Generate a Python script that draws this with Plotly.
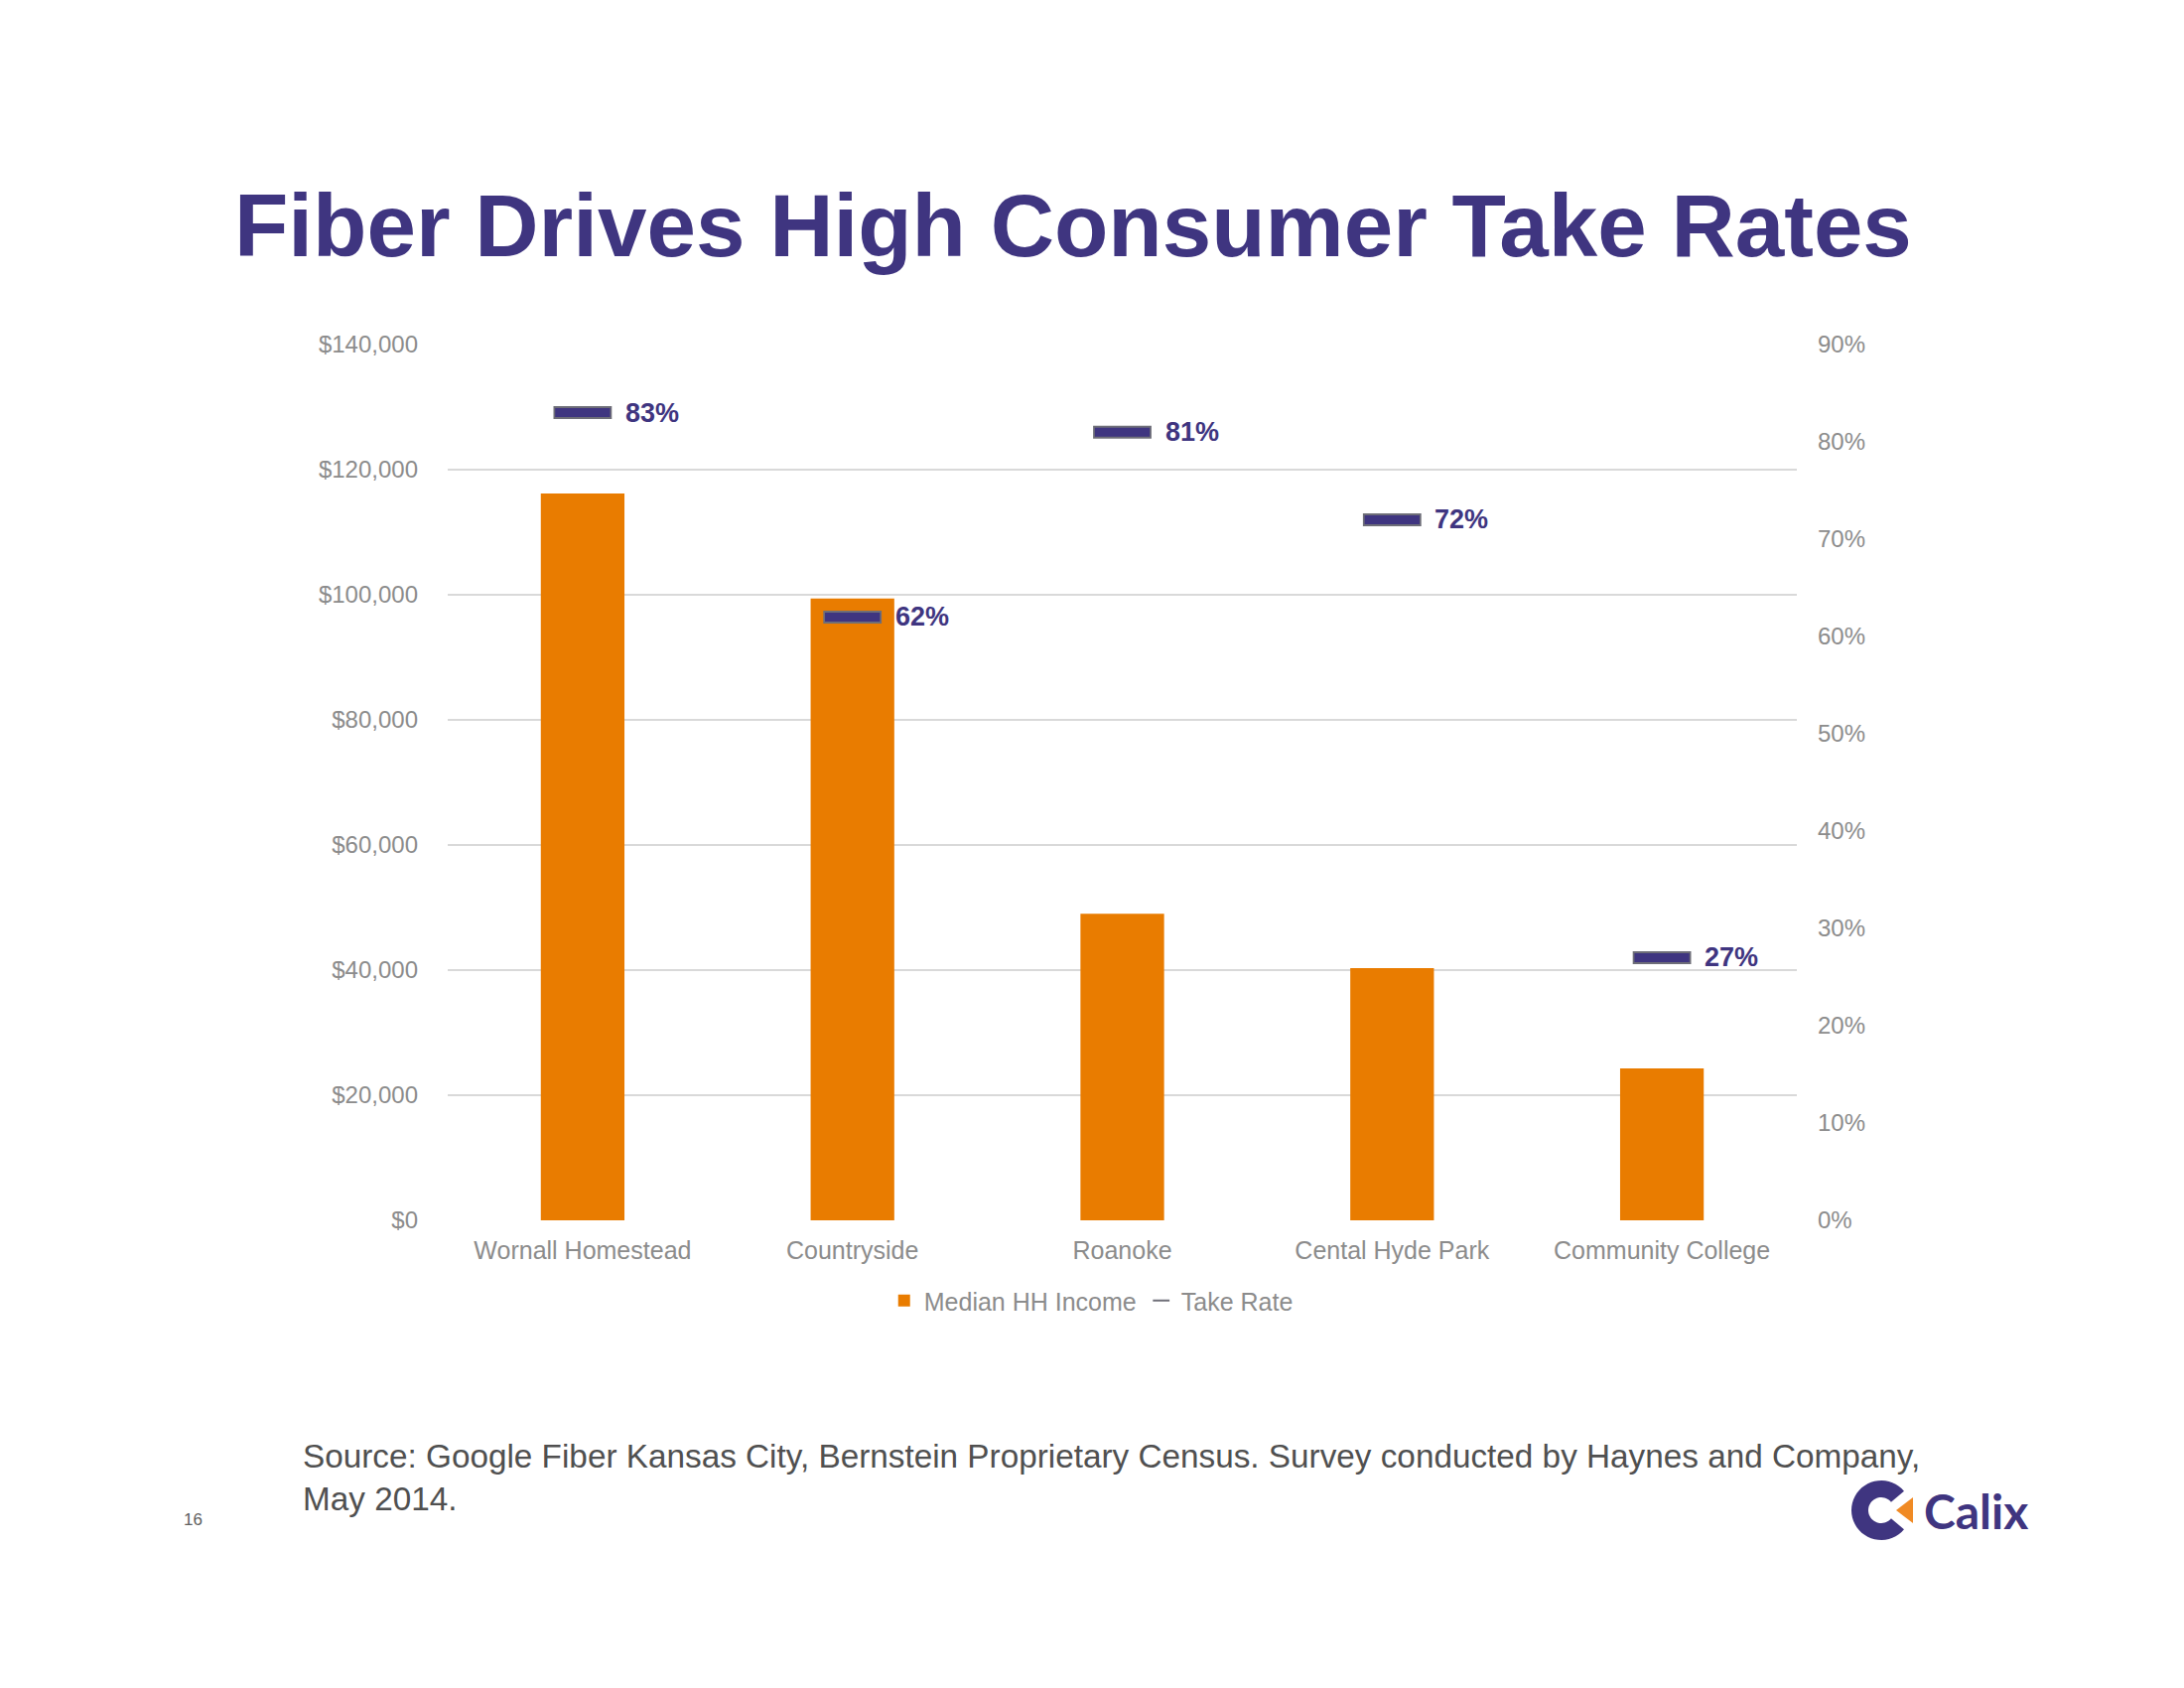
import plotly.graph_objects as go
import math

categories = ["Wornall Homestead", "Countryside", "Roanoke", "Cental Hyde Park", "Community College"]
median_income = [116200, 99400, 49000, 40300, 24300]
take_rate = [0.83, 0.62, 0.81, 0.72, 0.27]

W, H = 2200, 1700
L, R, T, B = 451, 1810, 347, 1229

PURPLE = "#3F3580"
ORANGE = "#E97C00"
GRAY_TXT = "#8C8C8C"
FONT = "Liberation Sans, Arial, sans-serif"

def px(x):
    return (x - L) / (R - L)

def py(y):
    return (B - y) / (B - T)

fig = go.Figure()
fig.add_trace(go.Bar(
    x=categories, y=median_income, name="Median HH Income",
    marker=dict(color=ORANGE, line=dict(width=0)), yaxis="y",
))
# Take rate dash: grey outline + purple fill
fig.add_trace(go.Scatter(
    x=categories, y=take_rate, name="Take Rate", mode="markers", yaxis="y2",
    marker=dict(symbol="line-ew", size=42, color="#6E6E78",
                line=dict(width=13, color="#6E6E78")),
    showlegend=True,
))
fig.add_trace(go.Scatter(
    x=categories, y=take_rate, name="Take Rate", mode="markers", yaxis="y2",
    marker=dict(symbol="line-ew", size=39.5, color=PURPLE,
                line=dict(width=9, color=PURPLE)),
    showlegend=False,
))

fig.update_layout(
    width=W, height=H,
    margin=dict(l=L, r=W - R, t=T, b=H - B),
    paper_bgcolor="white", plot_bgcolor="white",
    font=dict(family=FONT, color=GRAY_TXT, size=24),
    bargap=0.69,
    xaxis=dict(showline=False, showgrid=False, zeroline=False, ticks="",
               tickfont=dict(size=25, color=GRAY_TXT), ticklabelstandoff=13),
    yaxis=dict(range=[0, 140000], dtick=20000, tickprefix="$", tickformat=",",
               showgrid=True, gridcolor="#D9D9D9", gridwidth=2, zeroline=False,
               showline=False, ticks="", ticklabelstandoff=29,
               tickfont=dict(size=24, color=GRAY_TXT)),
    yaxis2=dict(range=[0, 0.9], dtick=0.1, tickformat=".0%", overlaying="y",
                side="right", showgrid=False, zeroline=False, showline=False,
                ticks="", ticklabelstandoff=20,
                tickfont=dict(size=24, color=GRAY_TXT)),
    legend=dict(orientation="h", x=0.477, xanchor="center", y=py(1310), yanchor="middle",
                font=dict(size=25, color=GRAY_TXT), itemsizing="constant",
                traceorder="normal", itemwidth=30),
    showlegend=True,
)

annotations = [
    dict(text=f"<b>{round(v*100)}%</b>", x=c, y=v, xref="x", yref="y2",
         xanchor="left", yanchor="middle", xshift=41, showarrow=False,
         font=dict(family=FONT, size=27, color=PURPLE))
    for c, v in zip(categories, take_rate)
]
annotations += [
    dict(text="<b>Fiber Drives High Consumer Take Rates</b>", xref="paper", yref="paper",
         x=px(1081), y=py(227), xanchor="center", yanchor="middle", showarrow=False,
         font=dict(family=FONT, size=89, color=PURPLE)),
    dict(text="Source: Google Fiber Kansas City, Bernstein Proprietary Census. Survey conducted by Haynes and Company,<br>May 2014.",
         xref="paper", yref="paper", x=px(303), y=py(1446), xanchor="left", yanchor="top",
         align="left", showarrow=False, font=dict(family=FONT, size=33.3, color="#505050")),
    dict(text="16", xref="paper", yref="paper", x=px(183), y=py(1531), xanchor="left",
         yanchor="middle", showarrow=False, font=dict(family=FONT, size=17, color="#606060")),
    dict(text="<b>Calix</b>", xref="paper", yref="paper", x=px(1936), y=py(1521),
         xanchor="left", yanchor="middle", showarrow=False,
         font=dict(family="Lato, Noto Sans, sans-serif", size=48, color=PURPLE)),
]

# Calix "C" icon
cx, cy, ro, ri = 1895, 1521, 30, 13
pts = []
for i in range(0, 41):
    a = math.radians(40 + i * (280 / 40))
    pts.append((cx + ro * math.cos(a), cy - ro * math.sin(a)))
for i in range(40, -1, -1):
    a = math.radians(40 + i * (280 / 40))
    pts.append((cx + ri * math.cos(a), cy - ri * math.sin(a)))
path = "M " + " L ".join(f"{px(x):.5f},{py(y):.5f}" for x, y in pts) + " Z"
tri = [(1927, 1508), (1927, 1534), (1910, 1521)]
tpath = "M " + " L ".join(f"{px(x):.5f},{py(y):.5f}" for x, y in tri) + " Z"
shapes = [
    dict(type="path", xref="paper", yref="paper", path=path, fillcolor=PURPLE,
         line=dict(width=0)),
    dict(type="path", xref="paper", yref="paper", path=tpath, fillcolor="#F08A24",
         line=dict(width=0)),
]
fig.update_layout(annotations=annotations, shapes=shapes)

fig.write_html("out.html", config={"displayModeBar": False},
               post_script="document.body.style.margin='0';document.body.style.padding='0';")
